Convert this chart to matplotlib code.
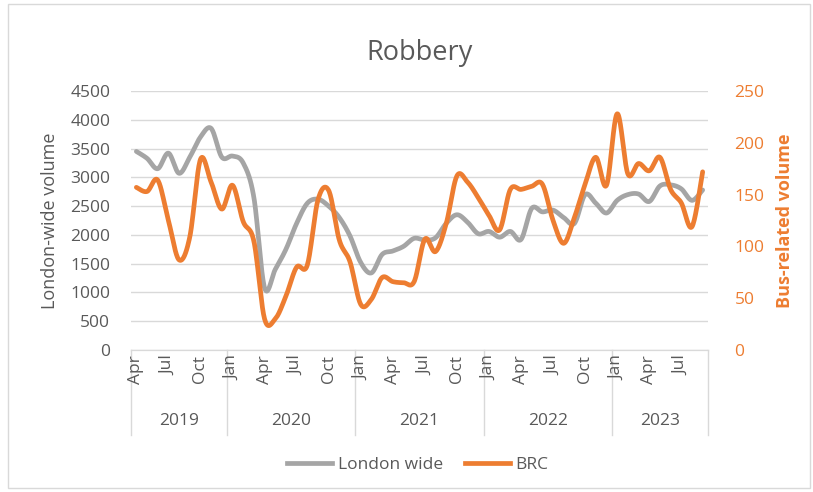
import matplotlib

matplotlib.use("Agg")
import matplotlib.pyplot as plt
import numpy as np
from matplotlib.patches import Rectangle
from matplotlib.lines import Line2D

plt.rcParams["font.family"] = ["Open Sans", "DejaVu Sans"]

# monthly values, Apr 2019 .. Sep 2023
london_wide = [
    3450, 3330, 3150, 3420, 3070, 3350, 3700, 3850, 3350,
    3370, 3250, 2650, 1080, 1400, 1750, 2200, 2550, 2620, 2500, 2300, 1980,
    1520, 1340, 1660, 1720, 1800, 1940, 1910, 1950, 2200, 2350, 2220, 2020,
    2060, 1960, 2060, 1920, 2460, 2400, 2430, 2300, 2200, 2700, 2550, 2380,
    2600, 2700, 2710, 2580, 2850, 2870, 2800, 2600, 2780,
]
brc = [
    157, 153, 164, 125, 87, 109, 184, 162, 136,
    159, 124, 105, 30, 30, 52, 80, 82, 145, 154, 106, 85,
    44, 49, 70, 66, 65, 66, 107, 95, 122, 168, 162, 147,
    130, 116, 155, 155, 158, 160, 125, 103, 128, 160, 186, 159,
    228, 170, 180, 173, 186, 155, 142, 119, 172,
]
month_names = ["Jan", "Feb", "Mar", "Apr", "May", "Jun",
               "Jul", "Aug", "Sep", "Oct", "Nov", "Dec"]
years = ["2019", "2020", "2021", "2022", "2023"]
months_per_year = [9, 12, 12, 12, 9]
first_month = 3  # April

GRAY = "#A5A5A5"
ORANGE = "#ED7D31"
TEXT = "#595959"


def smooth(y, steps=20):
    # Excel-like smoothed line (Catmull-Rom through the points)
    y = np.asarray(y, dtype=float)
    x = np.arange(len(y), dtype=float)
    p = np.vstack([x, y]).T
    p = np.vstack([p[0], p, p[-1]])
    out = []
    t = np.linspace(0, 1, steps, endpoint=False)[:, None]
    for i in range(1, len(p) - 2):
        p0, p1, p2, p3 = p[i - 1], p[i], p[i + 1], p[i + 2]
        c1 = p1 + (p2 - p0) / 6
        c2 = p2 - (p3 - p1) / 6
        seg = ((1 - t) ** 3) * p1 + 3 * ((1 - t) ** 2) * t * c1 + 3 * (1 - t) * t ** 2 * c2 + t ** 3 * p2
        out.append(seg)
    out.append(p[-2][None, :])
    out = np.vstack(out)
    return out[:, 0], out[:, 1]


fig = plt.figure(figsize=(8.13, 4.92), dpi=100)
fig.patches.append(Rectangle((8 / 813, 4 / 492), 802 / 813, 484 / 492, transform=fig.transFigure,
                             fill=False, edgecolor="#D9D9D9", linewidth=1))
ax = fig.add_axes([131 / 813, 1 - 350 / 492, 577 / 813, 259 / 492])
ax2 = ax.twinx()

n = len(london_wide)
xs, ys = smooth(london_wide)
ax.plot(xs, ys, color=GRAY, linewidth=3.4, solid_capstyle="round", zorder=3)
xs, ys = smooth(brc)
ax2.plot(xs, ys, color=ORANGE, linewidth=3.4, solid_capstyle="round", zorder=3)

ax.set_xlim(-0.5, n - 0.5)
ax.set_ylim(0, 4500)
ax.set_yticks(np.arange(0, 4501, 500))
ax2.set_ylim(0, 250)
ax2.set_yticks(np.arange(0, 251, 50))
ax.grid(axis="y", color="#D9D9D9", linewidth=1)
ax.set_axisbelow(True)

for a in (ax, ax2):
    for side in ("top", "left", "right"):
        a.spines[side].set_visible(False)
    a.spines["bottom"].set_color("#D9D9D9")
ax.tick_params(axis="y", length=0, pad=15, labelsize=12.5, labelcolor=TEXT)
ax2.tick_params(axis="y", length=0, pad=19, labelsize=12.5, labelcolor=ORANGE)
ax.set_xticks([])

ax.set_ylabel("London-wide volume", fontsize=13, color=TEXT, labelpad=8)
ax2.set_ylabel("Bus-related volume", fontsize=13, color=ORANGE, fontweight="bold", labelpad=8)
ax.set_title("Robbery", fontsize=19.5, color=TEXT, pad=22)

# two-level category axis
trans = ax.get_xaxis_transform()
bounds = [-0.5]
for count in months_per_year:
    bounds.append(bounds[-1] + count)
for i in range(n):
    m = (first_month + i) % 12
    if m % 3 == 0:
        ax.text(i, -0.02, month_names[m], rotation=90, ha="center", va="top",
                fontsize=12.5, color=TEXT, transform=trans)
for k, year in enumerate(years):
    ax.text((bounds[k] + bounds[k + 1]) / 2, -0.275, year, ha="center", va="center",
            fontsize=12.5, color=TEXT, transform=trans)
for b in bounds:
    ax.plot([b, b], [0, -0.33], color="#D9D9D9", linewidth=1, transform=trans, clip_on=False)

handles = [Line2D([], [], color=GRAY, linewidth=3.4), Line2D([], [], color=ORANGE, linewidth=3.4)]
leg = fig.legend(handles, ["London wide", "BRC"], loc="center", bbox_to_anchor=(0.514, 0.055),
                 ncol=2, frameon=False, fontsize=12.5, handlelength=2.6, handletextpad=0.3,
                 columnspacing=1.3)
for t in leg.get_texts():
    t.set_color(TEXT)

fig.savefig("out.png", dpi=100)
